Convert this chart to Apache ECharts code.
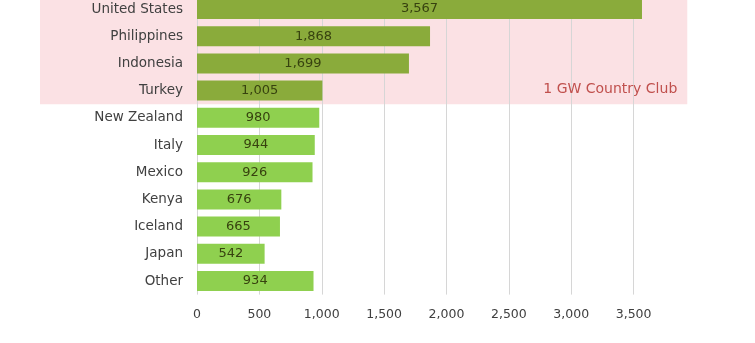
<!DOCTYPE html>
<html>
<head>
<meta charset="utf-8">
<script src="https://cdn.jsdelivr.net/npm/echarts@6/dist/echarts.min.js"></script>
<style>
  html, body { margin: 0; padding: 0; background: #ffffff; }
  #chart { width: 755px; height: 343px; }
</style>
</head>
<body>
<div id="chart"></div>
<script>
// Installed geothermal capacity (MW) by country
const countries = ['United States', 'Philippines', 'Indonesia', 'Turkey', 'New Zealand',
  'Italy', 'Mexico', 'Kenya', 'Iceland', 'Japan', 'Other'];
const capacityMW = [3567, 1868, 1699, 1005, 980, 944, 926, 676, 665, 542, 934];
// Countries with at least 1 GW installed
const clubThreshold = 1000;
const clubLabel = '1 GW Country Club';
const axisTicks = [0, 500, 1000, 1500, 2000, 2500, 3000, 3500];

const FONT = '"DejaVu Sans", sans-serif';
const clubColor = '#8aab3b';
const otherColor = '#8fd04f';

const chart = echarts.init(document.getElementById('chart'), null, { renderer: 'canvas' });

const barData = capacityMW.map(v => ({
  value: v,
  itemStyle: { color: v >= clubThreshold ? clubColor : otherColor }
}));

chart.setOption({
  backgroundColor: '#ffffff',
  animation: false,
  grid: {
    left: 197, right: 59, top: -4.6, height: 299.2,
    containLabel: false,
    outerBoundsMode: 'none'
  },
  xAxis: {
    type: 'value',
    min: 0,
    max: 4000,
    interval: 500,
    axisLine: { show: false },
    axisTick: { show: false },
    axisLabel: {
      showMaxLabel: false,
      margin: 14,
      color: '#404040',
      fontFamily: FONT,
      fontSize: 12.5,
      formatter: v => axisTicks.includes(v) ? v.toLocaleString('en-US') : ''
    },
    splitLine: {
      lineStyle: {
        width: 1,
        color: ['#d6d6d6', '#d6d6d6', '#d6d6d6', '#d6d6d6', '#d6d6d6',
                '#d6d6d6', '#d6d6d6', '#d6d6d6', 'rgba(0,0,0,0)']
      }
    },
    z: 3
  },
  yAxis: {
    type: 'category',
    inverse: true,
    data: countries,
    axisLine: { show: false },
    axisTick: { show: false },
    axisLabel: {
      margin: 14,
      color: '#404040',
      fontFamily: FONT,
      fontSize: 13.5
    }
  },
  series: [{
    type: 'bar',
    data: barData,
    barWidth: 20,
    z: 4,
    label: {
      show: true,
      position: 'inside',
      color: '#37420f',
      fontFamily: FONT,
      fontSize: 13,
      formatter: p => p.value.toLocaleString('en-US')
    }
  }]
});

// Shaded band behind the countries above the 1 GW threshold
function drawClubBand() {
  const clubCount = capacityMW.filter(v => v >= clubThreshold).length;
  const lastIdx = clubCount - 1;
  const yLast = chart.convertToPixel({ yAxisIndex: 0 }, countries[lastIdx]);
  const yNext = chart.convertToPixel({ yAxisIndex: 0 }, countries[lastIdx + 1]);
  const bandBottom = (yLast + yNext) / 2;
  const xEnd = chart.convertToPixel({ xAxisIndex: 0 }, 3930);
  chart.setOption({
    graphic: [
      {
        type: 'rect',
        z: -10,
        silent: true,
        shape: { x: 40, y: 0, width: xEnd - 40, height: bandBottom },
        style: { fill: '#fbe1e4' }
      },
      {
        type: 'text',
        z: 10,
        silent: true,
        x: xEnd - 10,
        y: bandBottom - 15,
        style: {
          text: clubLabel,
          fill: '#c0504d',
          font: '14px ' + FONT,
          align: 'right',
          verticalAlign: 'middle'
        }
      }
    ]
  });
}
drawClubBand();
</script>
</body>
</html>
